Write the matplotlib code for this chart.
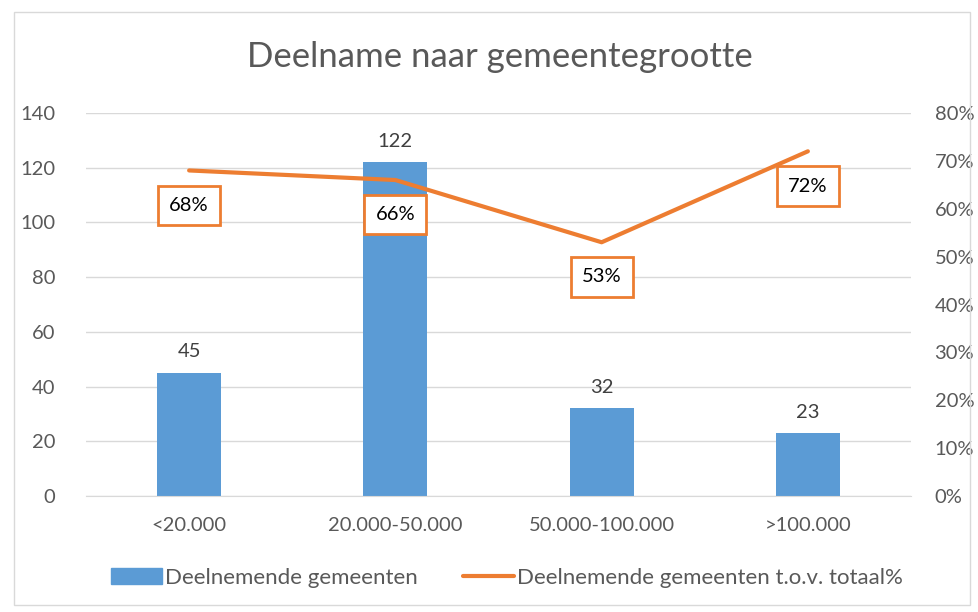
import matplotlib
matplotlib.use("Agg")
import matplotlib.pyplot as plt
from matplotlib.patches import Rectangle
from matplotlib.lines import Line2D
from matplotlib.ticker import FuncFormatter

categories = ["<20.000", "20.000-50.000", "50.000-100.000", ">100.000"]
deelnemend = [45, 122, 32, 23]
percentage = [0.68, 0.66, 0.53, 0.72]
pct_labels = ["68%", "66%", "53%", "72%"]

plt.rcParams['font.family'] = ['Lato', 'DejaVu Sans']
GREY = "#595959"
BLUE = "#5B9BD5"
ORANGE = "#ED7D31"
FS = 14.5

fig = plt.figure(figsize=(9.79, 6.12), dpi=100)
fig.patches.append(Rectangle((14/979, 1-605/612), (970-14)/979, (605-12)/612,
                             transform=fig.transFigure, fill=False, edgecolor="#D9D9D9", lw=1))
ax = fig.add_axes([86/979, 1-496/612, (911-86)/979, (496-113)/612])
x = range(len(categories))
ax.bar(x, deelnemend, width=0.31, color=BLUE, zorder=2)
ax.set_ylim(0, 140)
ax.set_xlim(-0.5, 3.5)
ax.set_yticks(range(0, 141, 20))
ax.grid(axis='y', color="#D9D9D9", lw=1, zorder=0)
ax.set_xticks(list(x))
ax.set_xticklabels(categories)
for s in ["top", "right", "left"]:
    ax.spines[s].set_visible(False)
ax.spines["bottom"].set_color("#D9D9D9")
ax.tick_params(axis='both', length=0, labelsize=FS, labelcolor=GREY)
ax.tick_params(axis='x', pad=15)
ax.tick_params(axis='y', pad=22)
for xi, v in zip(x, deelnemend):
    ax.annotate(str(v), (xi, v), xytext=(0, 9), textcoords="offset points",
                ha='center', va='bottom', fontsize=FS, color="#404040")

ax2 = ax.twinx()
ax2.set_ylim(0, 0.8)
ax2.set_yticks([i/10 for i in range(9)])
ax2.yaxis.set_major_formatter(FuncFormatter(lambda v, p: f"{round(v*100)}%"))
for s in ["top", "right", "left", "bottom"]:
    ax2.spines[s].set_visible(False)
ax2.tick_params(axis='y', length=0, labelsize=FS, labelcolor=GREY, pad=17)
ax2.plot(list(x), percentage, color=ORANGE, lw=3, solid_capstyle='round', zorder=3)
for xi, v, lab in zip(x, percentage, pct_labels):
    ax2.annotate(lab, (xi, v), xytext=(0, -25), textcoords="offset points",
                 ha='center', va='center', fontsize=FS, color="black",
                 bbox=dict(boxstyle="square,pad=0.55", fc="white", ec=ORANGE, lw=2))

fig.text(500/979, 1-57/612, "Deelname naar gemeentegrootte", ha='center', va='center',
         fontsize=25, color=GREY)

handles = [Rectangle((0, 0), 1, 1, color=BLUE),
           Line2D([0], [0], color=ORANGE, lw=3, solid_capstyle='round')]
fig.legend(handles, ["Deelnemende gemeenten", "Deelnemende gemeenten t.o.v. totaal%"],
           loc='center', bbox_to_anchor=(507/979, 1-578/612), ncol=2, frameon=False,
           fontsize=16, labelcolor=GREY, handlelength=2.3, handletextpad=0.15,
           columnspacing=2.0)

fig.savefig("out.png", dpi=100)
